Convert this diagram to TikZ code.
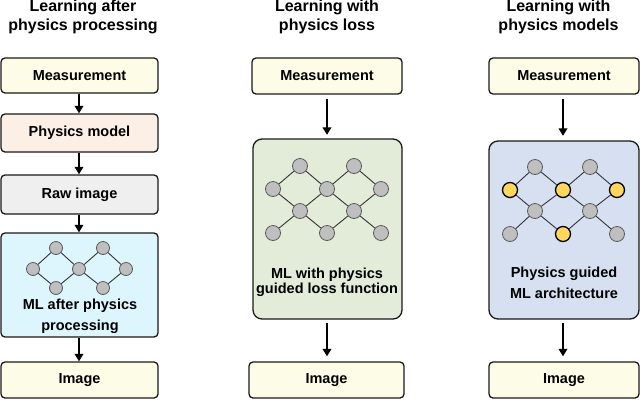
\documentclass[tikz,border=0pt]{standalone}
\usepackage{fontspec}
\setmainfont{Liberation Sans}
\usetikzlibrary{arrows.meta}
\definecolor{cream}{HTML}{FDFDE7}
\definecolor{peach}{HTML}{FCEFE6}
\definecolor{rawgray}{HTML}{EFEFEF}
\definecolor{cyanbg}{HTML}{DDF5FD}
\definecolor{greenbg}{HTML}{E2ECD9}
\definecolor{bluebg}{HTML}{D6E0F1}
\definecolor{nodegray}{HTML}{BFBFBF}
\definecolor{nodeyellow}{HTML}{FFD75E}
\definecolor{edgegray}{HTML}{333333}
\begin{document}
\begin{tikzpicture}[x=1pt,y=-1pt,
  box/.style={draw=black!90, line width=1.3pt, rounded corners=4pt, inner sep=0pt},
  mlbox/.style={box, rounded corners=9pt},
  lbl/.style={font=\bfseries\fontsize{14.5}{15}\selectfont, inner sep=0pt},
  ttl/.style={font=\bfseries\fontsize{16}{19}\selectfont, align=center, inner sep=0pt, anchor=north},
  arr/.style={line width=2.2pt, -{Triangle[length=7.5pt,width=8.5pt]}},
  nn/.style={circle, draw=black!65, line width=0.8pt, fill=nodegray, inner sep=0pt},
  yn/.style={circle, draw=black, line width=1.3pt, fill=nodeyellow, inner sep=0pt},
  ed/.style={draw=edgegray, line width=0.9pt}]
\useasboundingbox (0,0) rectangle (640,400);

% titles
\node[ttl] (t1) at (83,0) {Learning after\\physics processing};
\node[ttl] (t2) at (327,0) {Learning with\\physics loss};
\node[ttl] (t3) at (558.5,0) {Learning with\\physics models};

% column 1
\node[box, fill=cream, minimum width=157pt, minimum height=35pt] (m1) at (79.5,75.5) {};
\node[lbl] at (m1) {Measurement};
\node[box, fill=peach, minimum width=157pt, minimum height=38pt] (p1) at (79.5,133) {};
\node[lbl] at (p1) {Physics model};
\node[box, fill=rawgray, minimum width=157pt, minimum height=39pt] (r1) at (79.5,194.5) {};
\node[lbl] at (r1) {Raw image};
\node[box, fill=cyanbg, minimum width=157pt, minimum height=104pt] (ml1) at (79.5,285) {};
\node[lbl, align=center, font=\bfseries\fontsize{14.5}{21}\selectfont] (ml1t) at (80,316.5) {ML after physics\\processing};
\node[box, fill=cream, minimum width=157pt, minimum height=36pt] (i1) at (79.5,380) {};
\node[lbl] at (i1) {Image};

\draw[arr] (m1.south -| 79,0) -- (p1.north -| 79,0);
\draw[arr] (p1.south -| 79,0) -- (r1.north -| 79,0);
\draw[arr] (r1.south -| 79,0) -- (ml1.north -| 79,0);
\draw[arr] (ml1.south -| 79,0) -- (i1.north -| 79,0);

% network col 1
\foreach \n/\x/\y in {a/56/248, b/103/248, c/33/269, d/79/269, e/126/269, f/56/288, g/103/288}
  \node[nn, minimum size=13pt] (n1\n) at (\x,\y) {};
\foreach \u/\v in {c/a, a/d, d/b, b/e, c/f, f/d, d/g, g/e}
  \draw[ed] (n1\u) -- (n1\v);

% column 2
\node[box, fill=cream, minimum width=150pt, minimum height=36pt] (m2) at (327,76) {};
\node[lbl] at (m2) {Measurement};
\node[mlbox, fill=greenbg, minimum width=149pt, minimum height=180pt] (ml2) at (327.5,229) {};
\node[lbl, align=center, font=\bfseries\fontsize{14.5}{15.5}\selectfont] (ml2t) at (327,282.5) {ML with physics\\guided loss function};
\node[box, fill=cream, minimum width=155pt, minimum height=36pt] (i2) at (326.5,380) {};
\node[lbl] at (i2) {Image};
\draw[arr, shorten <=4.5pt, shorten >=3.5pt] (m2.south -| 327,0) -- (ml2.north -| 327,0);
\draw[arr, shorten <=3.5pt, shorten >=5pt] (ml2.south -| 327,0) -- (i2.north -| 327,0);

\foreach \n/\x/\y in {a/300/166, b/354/166, c/273/189, d/327/189, e/381/189, f/300/211, g/354/211, h/273/233, i/327/233, j/381/233}
  \node[nn, minimum size=15pt] (n2\n) at (\x,\y) {};
\foreach \u/\v in {a/c, a/d, b/d, b/e, c/f, d/f, d/g, e/g, f/h, f/i, g/i, g/j}
  \draw[ed] (n2\u) -- (n2\v);

% column 3
\node[box, fill=cream, minimum width=150pt, minimum height=36pt] (m3) at (564,76) {};
\node[lbl] at (m3) {Measurement};
\node[mlbox, fill=bluebg, minimum width=150pt, minimum height=178pt] (ml3) at (564,230) {};
\node[lbl, align=center, font=\bfseries\fontsize{14.5}{21}\selectfont] (ml3t) at (564,282.5) {Physics guided\\ML architecture};
\node[box, fill=cream, minimum width=150pt, minimum height=36pt] (i3) at (564,380) {};
\node[lbl] at (i3) {Image};
\draw[arr, shorten <=4.5pt, shorten >=4.5pt] (m3.south -| 563,0) -- (ml3.north -| 563,0);
\draw[arr, shorten <=3.5pt, shorten >=5pt] (ml3.south -| 563,0) -- (i3.north -| 563,0);

\foreach \n/\x/\y/\s in {a/535/167/nn, b/590/167/nn, c/510/190/yn, d/563/190/yn, e/617/190/yn, f/535/211/nn, g/590/211/nn, h/510/234/nn, i/563/234/yn, j/617/234/nn}
  \node[\s, minimum size=15pt] (n3\n) at (\x,\y) {};
\foreach \u/\v in {a/c, a/d, b/d, b/e, c/f, d/f, d/g, e/g, f/h, f/i, g/i, g/j}
  \draw[ed] (n3\u) -- (n3\v);
\end{tikzpicture}
\end{document}
